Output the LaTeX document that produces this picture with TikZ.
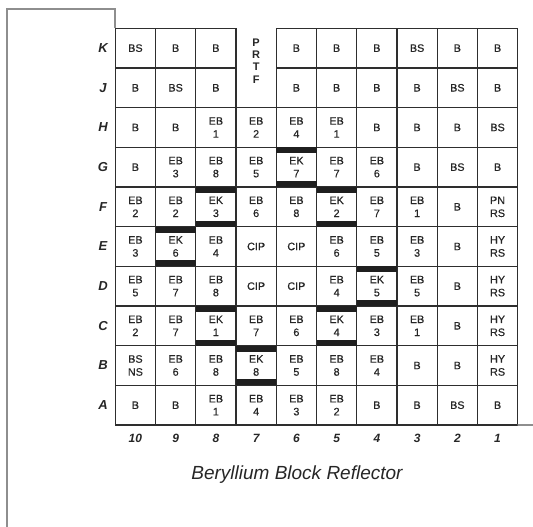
\documentclass[tikz,border=0pt]{standalone}
\usepackage{fontspec}
\setmainfont{Liberation Sans}
\newfontfamily\cellfont[FakeBold=0.5]{Liberation Sans}
\definecolor{gridc}{HTML}{2E2E2E}
\definecolor{framec}{HTML}{8E8E8E}
\definecolor{txt}{HTML}{262626}
\newcommand\cellat[3]{\node[cellbox] (c-#1-#2) at ({115.3+40.24*(#2+0.5)},{28.3+39.67*(#1+0.5)}) {#3};}
\newcommand\ekbars[1]{%
  \fill[barfill] (#1.north west) rectangle ([yshift=-6pt]#1.north east);
  \fill[barfill] ([yshift=6pt]#1.south west) rectangle (#1.south east);}
\begin{document}
\begin{tikzpicture}[x=1pt,y=-1pt,
  cellbox/.style={draw=gridc, line width=1.3pt, minimum width=40.24pt, minimum height=39.67pt,
    inner sep=0pt, outer sep=0pt, align=center, text=txt, font=\cellfont\fontsize{10.8}{13}\selectfont},
  rowlab/.style={font=\fontsize{13}{13}\selectfont\bfseries\itshape, text=txt},
  collab/.style={font=\fontsize{12}{12}\selectfont\bfseries\itshape, text=txt},
  barfill/.style={fill=black!88},
  framel/.style={draw=framec, line width=1.8pt}]
\useasboundingbox (0,0) rectangle (533,527);
% frame
\draw[framel] (7,527) -- (7,9) -- (115.3,9) -- (115.3,28.3);
% row K
\foreach \c/\t in {0/BS,1/B,2/B,4/B,5/B,6/B,7/BS,8/B,9/B} {\cellat{0}{\c}{\t}}
% row J
\foreach \c/\t in {0/B,1/BS,2/B,4/B,5/B,6/B,7/B,8/BS,9/B} {\cellat{1}{\c}{\t}}
% row H
\foreach \c/\t in {0/B,1/B,2/{EB\\1},3/{EB\\2},4/{EB\\4},5/{EB\\1},6/B,7/B,8/B,9/BS} {\cellat{2}{\c}{\t}}
% row G
\foreach \c/\t in {0/B,1/{EB\\3},2/{EB\\8},3/{EB\\5},4/{EK\\7},5/{EB\\7},6/{EB\\6},7/B,8/BS,9/B} {\cellat{3}{\c}{\t}}
% row F
\foreach \c/\t in {0/{EB\\2},1/{EB\\2},2/{EK\\3},3/{EB\\6},4/{EB\\8},5/{EK\\2},6/{EB\\7},7/{EB\\1},8/B,9/{PN\\RS}} {\cellat{4}{\c}{\t}}
% row E
\foreach \c/\t in {0/{EB\\3},1/{EK\\6},2/{EB\\4},3/CIP,4/CIP,5/{EB\\6},6/{EB\\5},7/{EB\\3},8/B,9/{HY\\RS}} {\cellat{5}{\c}{\t}}
% row D
\foreach \c/\t in {0/{EB\\5},1/{EB\\7},2/{EB\\8},3/CIP,4/CIP,5/{EB\\4},6/{EK\\5},7/{EB\\5},8/B,9/{HY\\RS}} {\cellat{6}{\c}{\t}}
% row C
\foreach \c/\t in {0/{EB\\2},1/{EB\\7},2/{EK\\1},3/{EB\\7},4/{EB\\6},5/{EK\\4},6/{EB\\3},7/{EB\\1},8/B,9/{HY\\RS}} {\cellat{7}{\c}{\t}}
% row B
\foreach \c/\t in {0/{BS\\NS},1/{EB\\6},2/{EB\\8},3/{EK\\8},4/{EB\\5},5/{EB\\8},6/{EB\\4},7/B,8/B,9/{HY\\RS}} {\cellat{8}{\c}{\t}}
% row A
\foreach \c/\t in {0/B,1/B,2/{EB\\1},3/{EB\\4},4/{EB\\3},5/{EB\\2},6/B,7/B,8/BS,9/B} {\cellat{9}{\c}{\t}}
% PRTF open cell
\node[cellbox, draw=none, minimum height=79.34pt] (prtfcell) at ({115.3+40.24*3.5},{28.3+39.67}) {};
\draw[draw=gridc, line width=1.3pt] (prtfcell.north west) -- (prtfcell.south west);
\draw[draw=gridc, line width=1.3pt] (prtfcell.north east) -- (prtfcell.south east);
\node[text=txt, align=center, font=\fontsize{11}{12.4}\selectfont\bfseries, inner sep=0pt] (prtf) at ({115.3+40.24*3.5},61) {P\\R\\T\\F};
% EK bars
\ekbars{c-3-4}
\ekbars{c-4-2}
\ekbars{c-4-5}
\ekbars{c-5-1}
\ekbars{c-6-6}
\ekbars{c-7-2}
\ekbars{c-7-5}
\ekbars{c-8-3}
% bottom frame extension
\coordinate (bend) at (533,425);
\draw[framel] (c-9-9.south east) -- (bend);
% row labels
\foreach \r/\l in {0/K,1/J,2/H,3/G,4/F,5/E,6/D,7/C,8/B,9/A}
  \node[rowlab] (row-\l) at (103,{28.3+39.67*(\r+0.5)}) {\l};
% column labels
\foreach \c/\n in {0/10,1/9,2/8,3/7,4/6,5/5,6/4,7/3,8/2,9/1}
  \node[collab] (col-\n) at ({115.3+40.24*(\c+0.5)},438.5) {\n};
% title
\node[text=black!85, font=\fontsize{19}{19}\selectfont\itshape] (title) at (297,475) {Beryllium Block Reflector};
\end{tikzpicture}
\end{document}
